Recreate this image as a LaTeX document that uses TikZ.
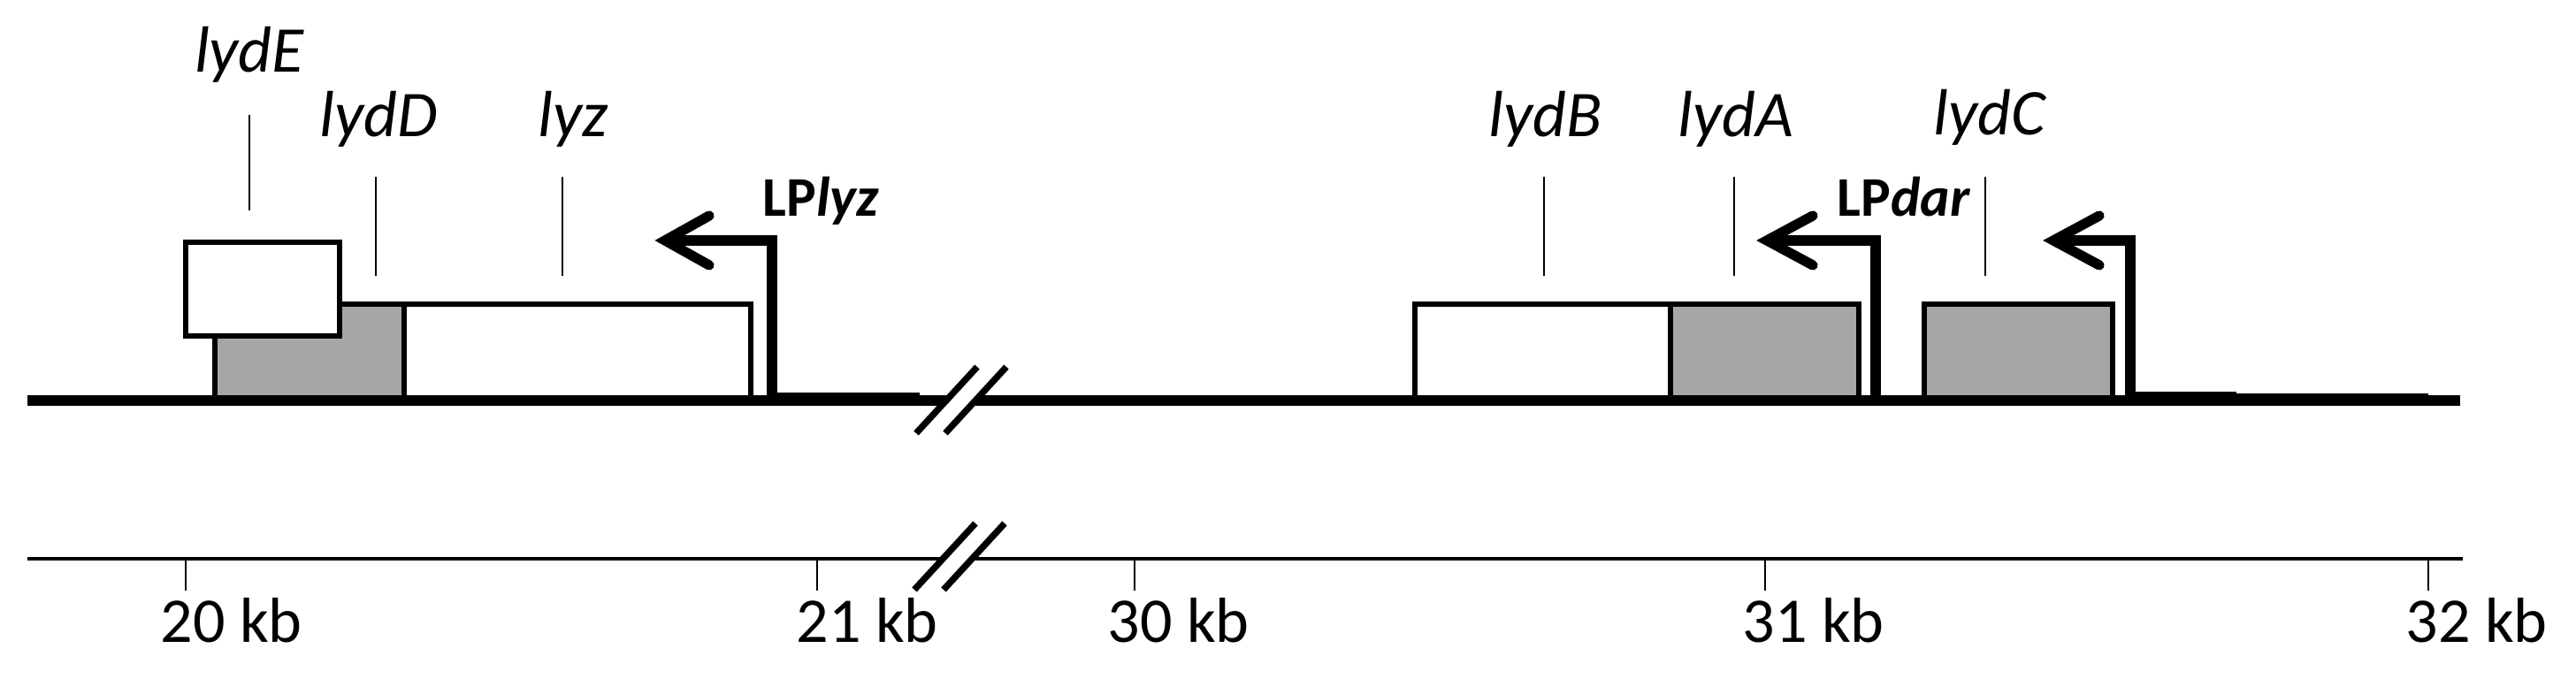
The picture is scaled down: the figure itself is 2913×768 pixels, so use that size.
\documentclass[tikz,border=0pt]{standalone}
\usepackage{fontspec}
\setmainfont{Carlito}
\definecolor{genegray}{HTML}{A6A6A6}
\begin{document}
\begin{tikzpicture}[x=0.01cm,y=-0.01cm,
  genebox/.style={draw=black,line width=1.5pt,line join=miter},
  graybox/.style={genebox,fill=genegray},
  whitebox/.style={genebox,fill=white},
  mainline/.style={line width=3.4pt},
  scaleline/.style={line width=1.1pt},
  leader/.style={line width=0.6pt},
  promoter/.style={line width=3.2pt,line join=miter},
  barb/.style={line width=3.2pt,line join=miter,line cap=round},
  slash/.style={line width=2.1pt},
  genelab/.style={font=\fontsize{21}{24}\selectfont\itshape,anchor=base,inner sep=0pt},
  lplab/.style={font=\fontsize{18}{21}\selectfont\bfseries,anchor=base west,inner sep=0pt},
  kblab/.style={font=\fontsize{20.5}{24}\selectfont,anchor=base west,inner sep=0pt}]
\useasboundingbox (0,0) rectangle (2913,768);

% gene boxes, left cluster
\draw[graybox] (243,344) rectangle (457,453);
\draw[whitebox] (457,344) rectangle (849,453);
\draw[whitebox] (210,274) rectangle (384,380);
% gene boxes, right cluster
\draw[whitebox] (1600,344) rectangle (1889,453);
\draw[graybox] (1889,344) rectangle (2102,453);
\draw[graybox] (2176,344) rectangle (2389,453);

% main line
\draw[mainline] (31,453) -- (2782,453);
\fill (873,444) rectangle (1040,452);
\fill (2409,443) rectangle (2529,452);
\fill (2529,445) rectangle (2746,452);

% break on main line
\fill[white] (1036,490) -- (1105,415) -- (1138,415) -- (1069,490) -- cycle;
\draw[slash] (1036,490) -- (1105,415);
\draw[slash] (1069,490) -- (1138,415);

% promoters
\draw[promoter] (873,455) -- (873,272) -- (752,272);
\draw[barb] (802,244) -- (752,272) -- (802,300);
\draw[promoter] (2121,455) -- (2121,272) -- (1998,272);
\draw[barb] (2050,244) -- (1998,272) -- (2050,300);
\draw[promoter] (2409,455) -- (2409,272) -- (2322,272);
\draw[barb] (2374,244) -- (2322,272) -- (2374,300);

% gene labels and leaders
\node[genelab] (lydE) at (282,82) {lydE};
\node[genelab] (lydD) at (428,155) {lydD};
\node[genelab] (lyz) at (648,155) {lyz};
\node[genelab] (lydB) at (1748,155) {lydB};
\node[genelab] (lydA) at (1963,155) {lydA};
\node[genelab] (lydC) at (2250,153) {lydC};
\draw[leader] (282,130) -- (282,238);
\draw[leader] (425,200) -- (425,312);
\draw[leader] (636,200) -- (636,312);
\draw[leader] (1746,200) -- (1746,312);
\draw[leader] (1961,200) -- (1961,312);
\draw[leader] (2245,200) -- (2245,312);

% promoter labels
\node[lplab] (LPlyz) at (862,245) {LP\textit{lyz}};
\node[lplab] (LPdar) at (2077,245) {LP\textit{dar}};

% scale line
\draw[scaleline] (31,632) -- (2785,632);
\fill[white] (1034,667) -- (1103,592) -- (1136,592) -- (1067,667) -- cycle;
\draw[slash] (1034,667) -- (1103,592);
\draw[slash] (1067,667) -- (1136,592);
\foreach \t in {210,924,1283,1996,2746}
  \draw[leader] (\t,632) -- (\t,668);
\node[kblab] (k20) at (181,727) {20 kb};
\node[kblab] (k21) at (900,727) {21 kb};
\node[kblab] (k30) at (1252,727) {30 kb};
\node[kblab] (k31) at (1970,727) {31 kb};
\node[kblab] (k32) at (2720,727) {32 kb};
\end{tikzpicture}
\end{document}
